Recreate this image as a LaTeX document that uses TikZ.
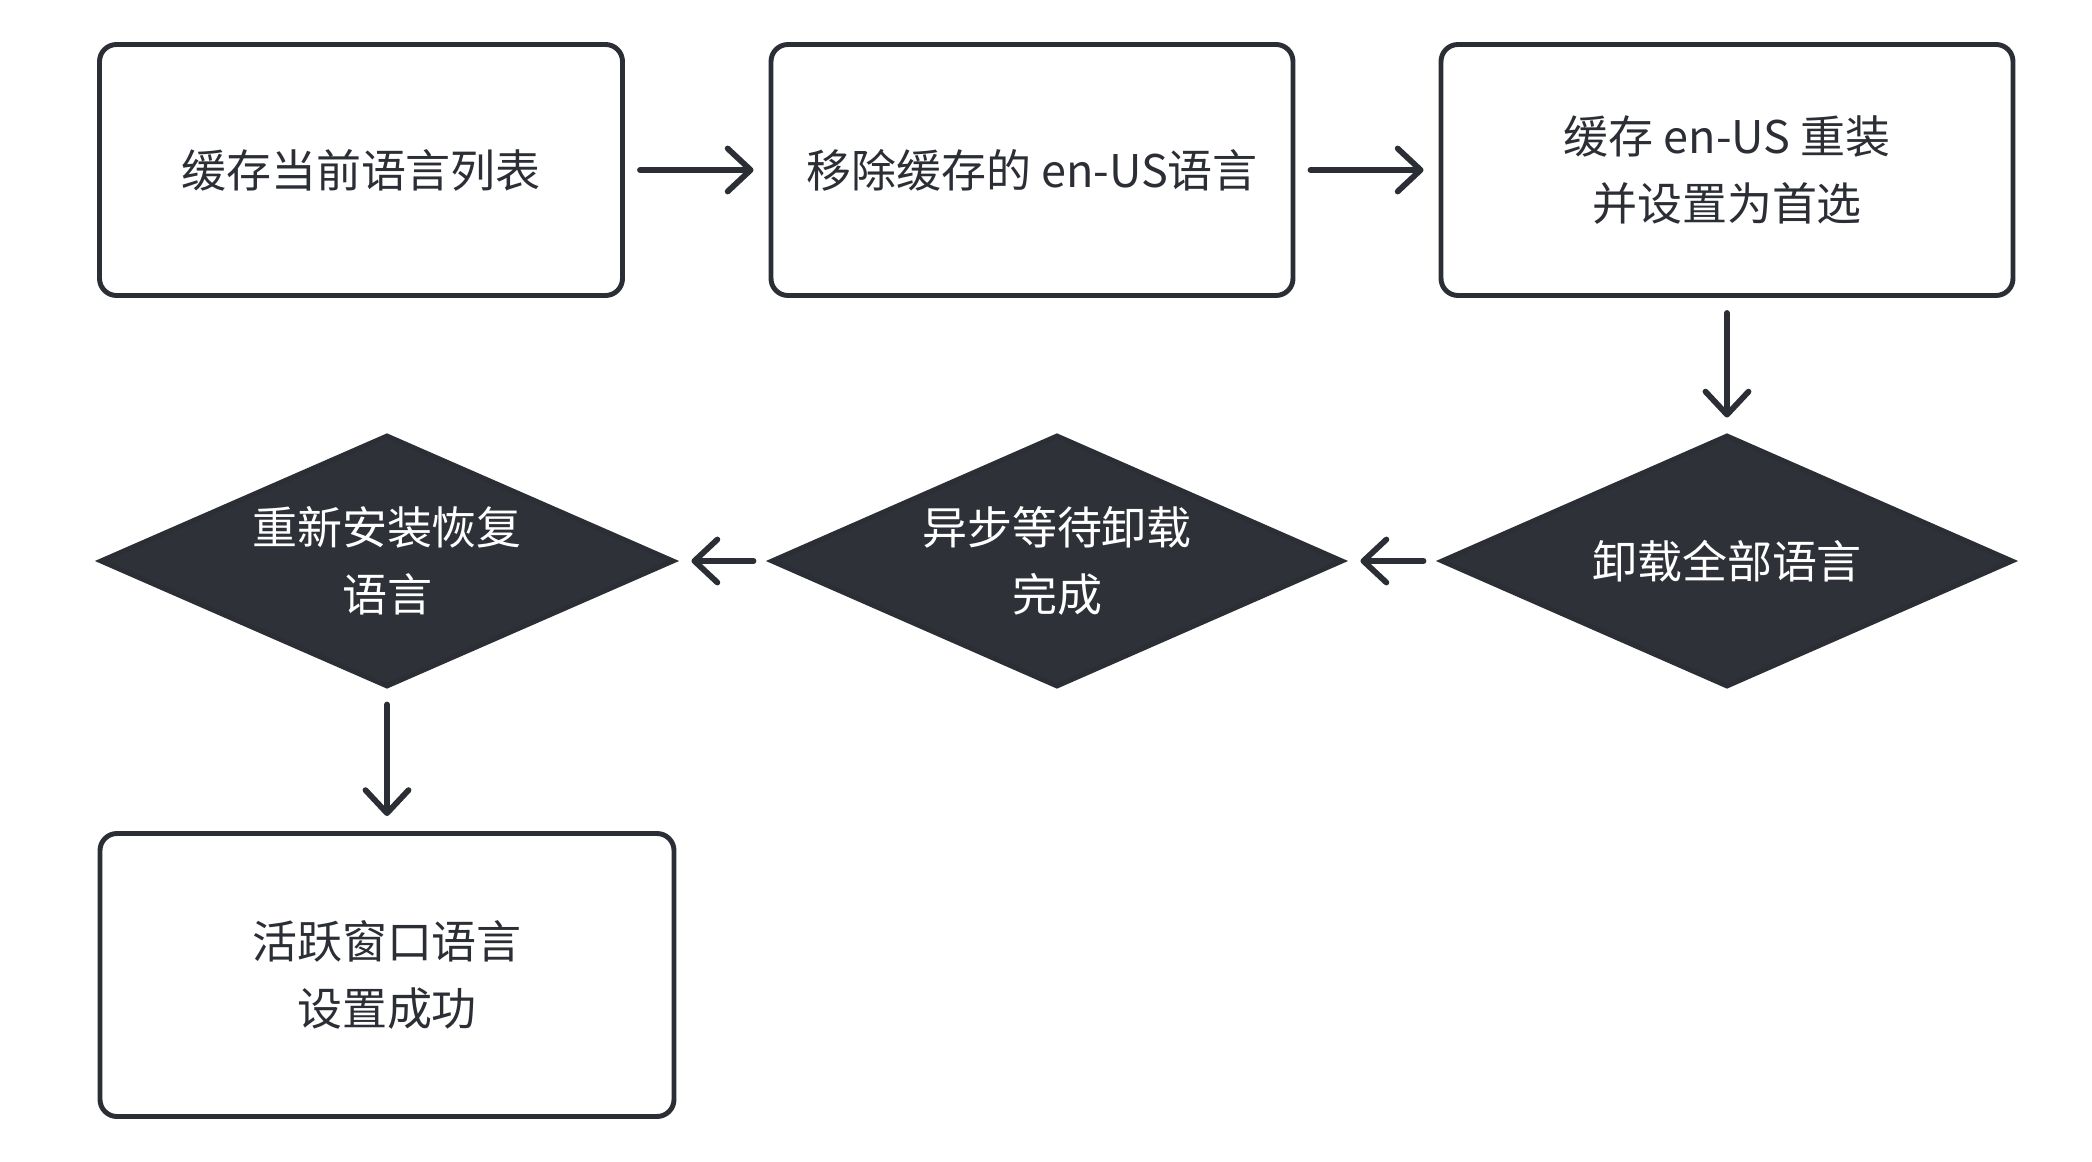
\documentclass[tikz,border=0pt]{standalone}
\usepackage{fontspec}
\newfontfamily\cjk{Noto Sans CJK SC}
\usepackage{xcolor}
\usepackage{tikz}
\usetikzlibrary{shapes.geometric, arrows.meta}
\definecolor{InkDark}{HTML}{2B2E35}
\definecolor{SlateFill}{HTML}{2E3138}

\tikzset{
  stepbox/.style={draw=InkDark, line width=2.8pt, rounded corners=0.34cm, fill=white,
    text=InkDark, align=center, inner sep=0pt},
  decision/.style={diamond, draw=InkDark, fill=SlateFill, line width=2.8pt, text=white,
    align=center, inner sep=0pt, aspect=2.27, minimum width=11.44cm, minimum height=5.04cm},
  flow/.style={draw=InkDark, line width=3.3pt, line cap=round, shorten <=0.3cm, shorten >=0.3cm,
    -{Straight Barb[length=4.6mm, width=8.6mm, line join=round, line cap=round]}}
}

\begin{document}
\begin{tikzpicture}[font=\cjk\fontsize{25.6}{38}\selectfont]
    \useasboundingbox (0,0) rectangle (41.84,-23.24);
    % top row
    \node[stepbox, minimum width=10.46cm, minimum height=5.02cm] (cache) at (7.22,-3.40) {缓存当前语言列表};
    \node[stepbox, minimum width=10.44cm, minimum height=5.02cm] (remove) at (20.64,-3.40) {移除缓存的 en-US语言};
    \node[stepbox, minimum width=11.44cm, minimum height=5.02cm] (reinst) at (34.54,-3.40) {缓存 en-US 重装\\并设置为首选};
    % decisions
    \node[decision] (unload) at (34.54,-11.22) {卸载全部语言};
    \node[decision] (wait) at (21.14,-11.22) {异步等待卸载\\完成};
    \node[decision, minimum width=11.48cm] (restore) at (7.74,-11.22) {重新安装恢复\\语言};
    % result
    \node[stepbox, minimum width=11.48cm, minimum height=5.66cm] (done) at (7.74,-19.50) {活跃窗口语言\\设置成功};
    % connectors
    \draw[flow] (cache) -- (remove);
    \draw[flow] (remove) -- (reinst);
    \draw[flow] (reinst) -- (unload);
    \draw[flow] (unload) -- (wait);
    \draw[flow] (wait) -- (restore);
    \draw[flow] (restore) -- (done);
\end{tikzpicture}
\end{document}
